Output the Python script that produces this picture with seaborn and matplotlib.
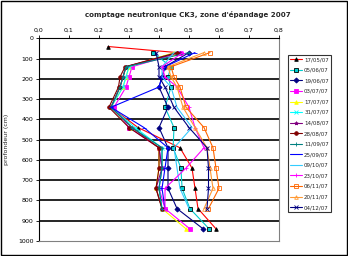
import numpy as np
import pandas as pd
import matplotlib
matplotlib.use("Agg")
import matplotlib.pyplot as plt
import seaborn as sns
from matplotlib.patches import Rectangle
from matplotlib.ticker import FuncFormatter

N = np.nan
depths = [40, 70, 140, 190, 240, 340, 440, 540, 640, 740, 840, 940]
labels = ["17/05/07", "05/06/07", "19/06/07", "03/07/07", "17/07/07",
          "31/07/07", "14/08/07", "28/08/07", "11/09/07", "25/09/07",
          "09/10/07", "23/10/07", "06/11/07", "20/11/07", "04/12/07"]
s01 = [0.23, 0.46, 0.29, 0.28, 0.27, 0.24, 0.33, 0.47, 0.51, 0.52, 0.53, 0.59]
s02 = [N, 0.38, 0.44, 0.43, 0.44, 0.42, 0.45, 0.447, 0.473, 0.477, 0.503, 0.567]
s03 = [N, 0.50, 0.42, 0.41, 0.40, 0.43, 0.40, 0.43, 0.43, 0.43, 0.46, 0.547]
s04 = [N, 0.47, 0.31, 0.30, 0.29, 0.25, 0.30, 0.40, 0.41, 0.40, 0.42, 0.503]
s05 = [N, 0.45, 0.30, 0.29, 0.28, 0.24, 0.31, 0.40, 0.40, 0.39, 0.41, 0.49]
s06 = [N, 0.46, 0.30, 0.29, 0.28, 0.24, 0.32, 0.41, 0.41, 0.40, 0.41, N]
s07 = [N, 0.47, 0.29, 0.28, 0.27, 0.24, 0.31, 0.40, 0.41, 0.39, 0.41, N]
s08 = [N, 0.46, 0.287, 0.27, 0.265, 0.233, 0.30, 0.40, 0.40, 0.39, 0.41, N]
s09 = [N, 0.50, 0.29, 0.28, 0.27, 0.24, 0.31, 0.41, 0.41, 0.40, 0.41, N]
s10 = [N, 0.52, 0.42, 0.41, 0.40, 0.24, 0.35, 0.43, 0.42, 0.41, 0.42, N]
s11 = [N, 0.45, 0.41, 0.41, 0.44, 0.46, 0.51, 0.45, 0.46, 0.47, 0.50, N]
s12 = [N, 0.48, 0.41, 0.42, 0.46, 0.50, 0.52, 0.55, 0.49, 0.42, 0.42, N]
s13 = [N, 0.57, 0.44, 0.45, 0.47, 0.49, 0.55, 0.58, 0.59, 0.60, 0.565, N]
s14 = [N, 0.55, 0.43, 0.44, 0.46, 0.48, 0.52, 0.56, 0.57, 0.58, 0.55, N]
s15 = [N, 0.39, 0.40, 0.40, 0.42, 0.45, 0.50, 0.56, 0.565, 0.565, 0.56, N]
series = [s01, s02, s03, s04, s05, s06, s07, s08, s09, s10, s11, s12, s13, s14, s15]

styles = [
    dict(color="#FF0000", marker="^", mfc="#000000", mec="#000000"),
    dict(color="#00CCCC", marker="s", mfc="#00CCCC", mec="#000000"),
    dict(color="#000080", marker="D", mfc="#000080", mec="#000080"),
    dict(color="#FF00FF", marker="s", mfc="#FF00FF", mec="#FF00FF"),
    dict(color="#FFFF00", marker="^", mfc="#FFFF00", mec="#FFFF00"),
    dict(color="#00FFFF", marker="x", mfc="#00FFFF", mec="#00FFFF"),
    dict(color="#800080", marker="*", mfc="#800080", mec="#800080"),
    dict(color="#800000", marker="o", mfc="#800000", mec="#800000"),
    dict(color="#008080", marker="+", mfc="#008080", mec="#008080"),
    dict(color="#0000FF", marker="_", mfc="#0000FF", mec="#0000FF"),
    dict(color="#33CCFF", marker="", mfc="#33CCFF", mec="#33CCFF"),
    dict(color="#FF00FF", marker="+", mfc="#FF00FF", mec="#FF00FF"),
    dict(color="#FF6600", marker="s", mfc="none", mec="#FF6600"),
    dict(color="#FF9933", marker="^", mfc="none", mec="#FF9933"),
    dict(color="#000080", marker="x", mfc="#000080", mec="#000080"),
]

sns.set_theme(style="white")
plt.rcParams["font.family"] = ["DejaVu Sans"]

fig = plt.figure(figsize=(3.48, 2.56), dpi=100)
ax = fig.add_axes([39 / 348, 1 - 241 / 256, 240 / 348, (241 - 38.4) / 256])

handles = []
for vals, lab, st in zip(series, labels, styles):
    df = pd.DataFrame({"x": vals, "y": depths}).dropna()
    sns.lineplot(data=df, x="x", y="y", sort=False, estimator=None, ax=ax,
                 color=st["color"], linewidth=0.8, marker=st["marker"] or None,
                 markersize=2.6, markerfacecolor=st["mfc"], markeredgecolor=st["mec"],
                 markeredgewidth=0.6, legend=False)
    h, = ax.plot([], [], color=st["color"], linewidth=0.8, marker=st["marker"] or None,
                 markersize=2.6, markerfacecolor=st["mfc"], markeredgecolor=st["mec"],
                 markeredgewidth=0.6)
    handles.append(h)

ax.set_xlim(0, 0.8)
ax.set_ylim(1000, 0)
ax.xaxis.tick_top()
ax.set_xticks(np.arange(0, 0.81, 0.1))
ax.set_yticks(np.arange(0, 1001, 100))
ax.xaxis.set_major_formatter(FuncFormatter(lambda v, p: f"{v:.1f}".replace(".", ",")))
ax.tick_params(axis="both", labelsize=4.5, length=2, width=0.6, pad=2, colors="#000000")
ax.tick_params(axis="x", top=True, bottom=False, labeltop=True, labelbottom=False)
ax.tick_params(axis="y", left=True)
for yv in range(100, 1000, 100):
    ax.axhline(yv, color="#000000", linewidth=1.2, zorder=0)
ax.set_xlabel("")
ax.set_ylabel("profondeur (cm)", fontsize=4.5)
ax.yaxis.set_label_coords(-30 / 240, 0.5)
for side in ["left", "top"]:
    ax.spines[side].set_color("#000000")
    ax.spines[side].set_linewidth(0.8)
for side in ["right", "bottom"]:
    ax.spines[side].set_color("#808080")
    ax.spines[side].set_linewidth(0.8)

fig.text(0.54, 0.945, "comptage neutronique CK3, zone d'épandage 2007",
         ha="center", va="center", fontsize=5.1, fontweight="bold")

leg = fig.legend(handles, labels, loc="upper left", bbox_to_anchor=(288 / 348, 1 - 55 / 256),
                 fontsize=4, frameon=True, fancybox=False, edgecolor="#000000",
                 handlelength=2.2, handletextpad=0.3, labelspacing=1.0,
                 borderpad=0.4, borderaxespad=0)
leg.get_frame().set_linewidth(0.8)

fig.patches.append(Rectangle((0.002, 0.003), 0.995, 0.993, transform=fig.transFigure,
                             fill=False, edgecolor="#000000", linewidth=1.0))

fig.savefig("out.png", dpi=100)
